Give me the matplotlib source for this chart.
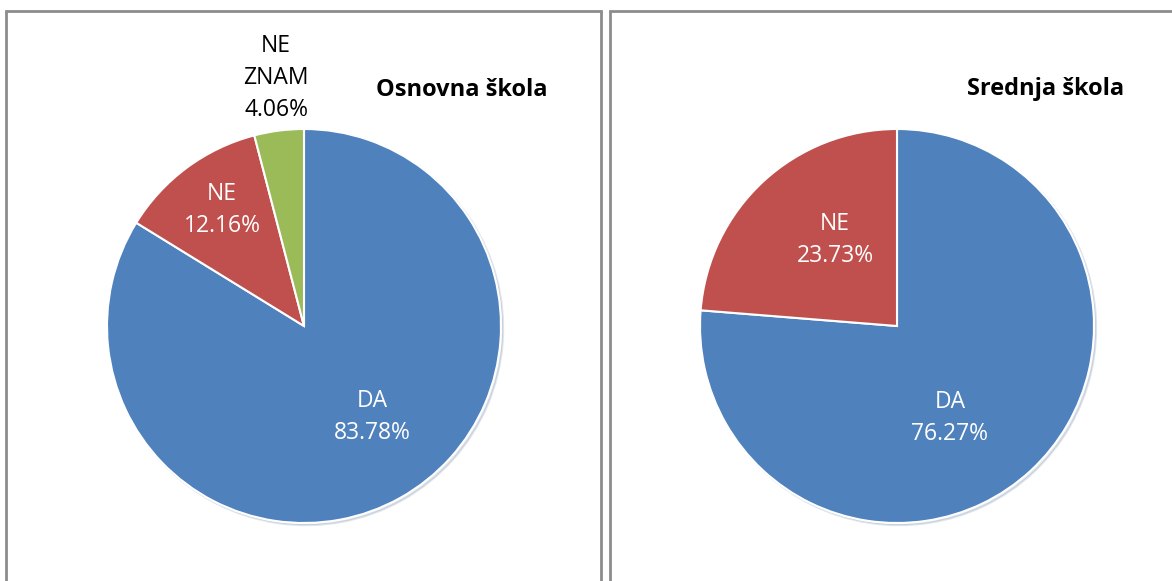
import matplotlib.pyplot as plt
from matplotlib.patches import Rectangle

# data
labels_osnovna = ['DA', 'NE', 'NE\nZNAM']
values_osnovna = [83.78, 12.16, 4.06]
labels_srednja = ['DA', 'NE']
values_srednja = [76.27, 23.73]
colors = ['#4F81BD', '#C0504D', '#9BBB59']

W, H = 1172, 581
plt.rcParams['font.family'] = ['Open Sans', 'DejaVu Sans']
fig = plt.figure(figsize=(W / 100, H / 100), dpi=100)

# panel borders (pixel coords, y from top)
for x0, x1 in [(6, 601), (610, 1180)]:
    fig.patches.append(Rectangle((x0 / W, -0.1), (x1 - x0) / W, 1.1 - 11 / H,
                                 transform=fig.transFigure, fill=False,
                                 edgecolor='#8c8c8c', linewidth=2))


def add_pie(cx, cy, r, vals, labs, title, title_xy, label_pos, label_col):
    ax = fig.add_axes([(cx - r) / W, (H - cy - r) / H, 2 * r / W, 2 * r / H])
    ax.pie(vals, colors=colors[:len(vals)], startangle=90, counterclock=False,
           radius=1, wedgeprops=dict(edgecolor='white', linewidth=1.5),
           shadow={'ox': 0.008, 'oy': -0.008, 'shade': 0.3, 'alpha': 0.15})
    ax.set_xlim(-1, 1)
    ax.set_ylim(-1, 1)
    ax.set_aspect('equal')
    ax.axis('off')
    for lab, v, (px, py), c in zip(labs, vals, label_pos, label_col):
        ax.text(px, py, f'{lab}\n{v:.2f}%', ha='center', va='center', color=c,
                fontsize=16.5, linespacing=1.45, clip_on=False)
    fig.text(title_xy[0] / W, 1 - title_xy[1] / H, title, ha='center', va='center',
             fontsize=17, fontweight='bold')


add_pie(304, 326, 197, values_osnovna, labels_osnovna, 'Osnovna škola', (462, 90),
        [(0.345, -0.462), (-0.416, 0.589), (-0.142, 1.259)],
        ['white', 'white', 'black'])
add_pie(897, 326, 197, values_srednja, labels_srednja, 'Srednja škola', (1046, 89),
        [(0.269, -0.467), (-0.315, 0.437)],
        ['white', 'white'])

fig.savefig('out.png', dpi=100)
